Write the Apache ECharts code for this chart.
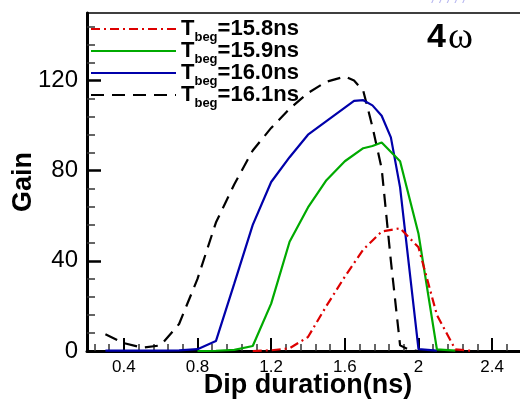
<!DOCTYPE html>
<html>
<head>
<meta charset="utf-8">
<script src="https://cdn.jsdelivr.net/npm/echarts@6/dist/echarts.min.js"></script>
<style>
  html, body { margin: 0; padding: 0; background: #fff; }
  #chart { width: 520px; height: 400px; }
</style>
</head>
<body>
<div id="chart"></div>
<script>
// Start times of the dip (legend entries)
const tbeg = ['15.8', '15.9', '16.0', '16.1'];

// Gain vs. dip duration, one curve per start time
const redX   = [1.1, 1.2, 1.3, 1.4, 1.5, 1.6, 1.7, 1.8, 1.9, 2.0, 2.1, 2.2, 2.3];
const redY   = [0, 0.3, 1.2, 6.2, 20, 33, 45, 53, 54.5, 46, 16, 0.7, 0];

const greenX = [0.8, 0.9, 1.0, 1.1, 1.2, 1.3, 1.4, 1.5, 1.6, 1.7, 1.75, 1.8, 1.9, 2.0, 2.1, 2.2];
const greenY = [0, 0.1, 0.5, 2.2, 21, 48.5, 63.7, 75.8, 84.2, 90, 91, 92.5, 84.2, 52, 0.7, 0.2];

const blueX  = [0.3, 0.4, 0.5, 0.6, 0.7, 0.8, 0.9, 1.0, 1.1, 1.2, 1.3, 1.4, 1.5, 1.6, 1.65, 1.7, 1.75, 1.8, 1.85, 1.9, 2.0, 2.1];
const blueY  = [0.2, 0.2, 0.2, 0.2, 0.3, 0.8, 4.4, 30, 56, 75, 86, 96, 102, 108, 111, 111.3, 109, 104.4, 94.8, 72.6, 0.8, 0.2];

const blackX = [0.3, 0.4, 0.5, 0.6, 0.7, 0.8, 0.9, 1.0, 1.1, 1.2, 1.3, 1.4, 1.5, 1.6, 1.65, 1.7, 1.75, 1.8, 1.85, 1.9, 1.95, 2.0];
const blackY = [7.4, 3.5, 1.5, 2.5, 12, 32, 57, 74, 89, 99, 107.5, 114.5, 119.5, 121.8, 120, 115.5, 99.5, 81, 40, 2.5, 0.5, 0];

// Axis ticks
const xMajor = [0.4, 0.8, 1.2, 1.6, 2.0, 2.4];
const yMajor = [0, 40, 80, 120];

const xMinor = [];
for (let i = 3; i <= 32; i++) if (i % 5 !== 0) xMinor.push(Math.round(i * 8) / 100);
const yMinor = [];
for (let v = 8; v <= 144; v += 8) if (v % 40 !== 0) yMinor.push(v);

const pair = (xs, ys) => xs.map((x, i) => [x, ys[i]]);
const FONT = '"Liberation Sans", Arial, sans-serif';

const chart = echarts.init(document.getElementById('chart'), null, { renderer: 'canvas' });

const baseX = { type: 'value', min: 0.2, max: 2.6, position: 'bottom', splitLine: { show: false } };
const baseY = { type: 'value', min: 0, max: 150, position: 'left', splitLine: { show: false } };

chart.setOption({
  animation: false,
  backgroundColor: '#fff',
  grid: {
    left: 87, right: -9, top: 13, bottom: 49,
    outerBoundsMode: 'none', containLabel: false,
    show: true, borderColor: '#000', borderWidth: 1.5
  },
  legend: {
    data: tbeg,
    orient: 'vertical',
    left: 90, top: 18, padding: 0,
    itemWidth: 85, itemHeight: 14, itemGap: -4,
    itemStyle: { opacity: 0 },
    formatter: name => '{t|T}{s|beg}{t|=' + name + 'ns}',
    textStyle: {
      rich: {
        t: { fontFamily: FONT, fontWeight: 'bold', fontSize: 22, color: '#000', lineHeight: 30 },
        s: { fontFamily: FONT, fontWeight: 'bold', fontSize: 13, color: '#000', lineHeight: 10, verticalAlign: 'bottom' }
      }
    }
  },
  xAxis: [
    Object.assign({}, baseX, {
      name: 'Dip duration(ns)', nameLocation: 'middle', nameGap: 21, nameMoveOverlap: false,
      nameTextStyle: { fontFamily: FONT, fontWeight: 'bold', fontSize: 27, color: '#000' },
      axisLine: { lineStyle: { color: '#000', width: 3 } },
      axisTick: { inside: true, length: 13, customValues: xMajor, lineStyle: { color: '#000', width: 2 } },
      axisLabel: { customValues: xMajor, fontFamily: FONT, fontSize: 17, color: '#000', margin: 8 }
    }),
    Object.assign({}, baseX, {
      axisLine: { show: false },
      axisTick: { inside: true, length: 7, customValues: xMinor, lineStyle: { color: '#333', width: 1.5 } },
      axisLabel: { show: false }
    })
  ],
  yAxis: [
    Object.assign({}, baseY, {
      name: 'Gain', nameLocation: 'middle', nameGap: 50, nameRotate: 90, nameMoveOverlap: false,
      nameTextStyle: { fontFamily: FONT, fontWeight: 'bold', fontSize: 27, color: '#000' },
      axisLine: { lineStyle: { color: '#000', width: 3 } },
      axisTick: { inside: true, length: 14, customValues: yMajor, lineStyle: { color: '#000', width: 2.5 } },
      axisLabel: { customValues: yMajor, fontFamily: FONT, fontSize: 24, color: '#000', margin: 9 }
    }),
    Object.assign({}, baseY, {
      axisLine: { show: false },
      axisTick: { inside: true, length: 8, customValues: yMinor, lineStyle: { color: '#333', width: 1.5 } },
      axisLabel: { show: false }
    })
  ],
  graphic: [
    {
      type: 'text', left: 427, top: 19,
      style: {
        text: '{a|4}{b|ω}',
        rich: {
          a: { fontFamily: FONT, fontWeight: 'bold', fontSize: 34, fill: '#000' },
          b: { fontFamily: '"Liberation Serif", "Times New Roman", serif', fontSize: 38, fill: '#000', padding: [0, 0, 0, 2] }
        }
      }
    },
    {
      type: 'text', left: 432, top: -8,
      style: { text: '/ / / / /', fontFamily: FONT, fontStyle: 'italic', fontSize: 14, fill: '#b8b8f0' }
    }
  ],
  series: [
    { name: tbeg[0], type: 'line', symbol: 'none', data: pair(redX, redY), z: 4,
      lineStyle: { color: '#dd0000', width: 2.2, type: [9, 4, 2, 4] }, itemStyle: { color: '#dd0000' } },
    { name: tbeg[1], type: 'line', symbol: 'none', data: pair(greenX, greenY), z: 3,
      lineStyle: { color: '#00aa00', width: 2.2 }, itemStyle: { color: '#00aa00' } },
    { name: tbeg[2], type: 'line', symbol: 'none', data: pair(blueX, blueY), z: 2,
      lineStyle: { color: '#0000aa', width: 2.2 }, itemStyle: { color: '#0000aa' } },
    { name: tbeg[3], type: 'line', symbol: 'none', data: pair(blackX, blackY), z: 1,
      lineStyle: { color: '#000', width: 2.2, type: [13, 8] }, itemStyle: { color: '#000' } }
  ]
});
</script>
</body>
</html>
